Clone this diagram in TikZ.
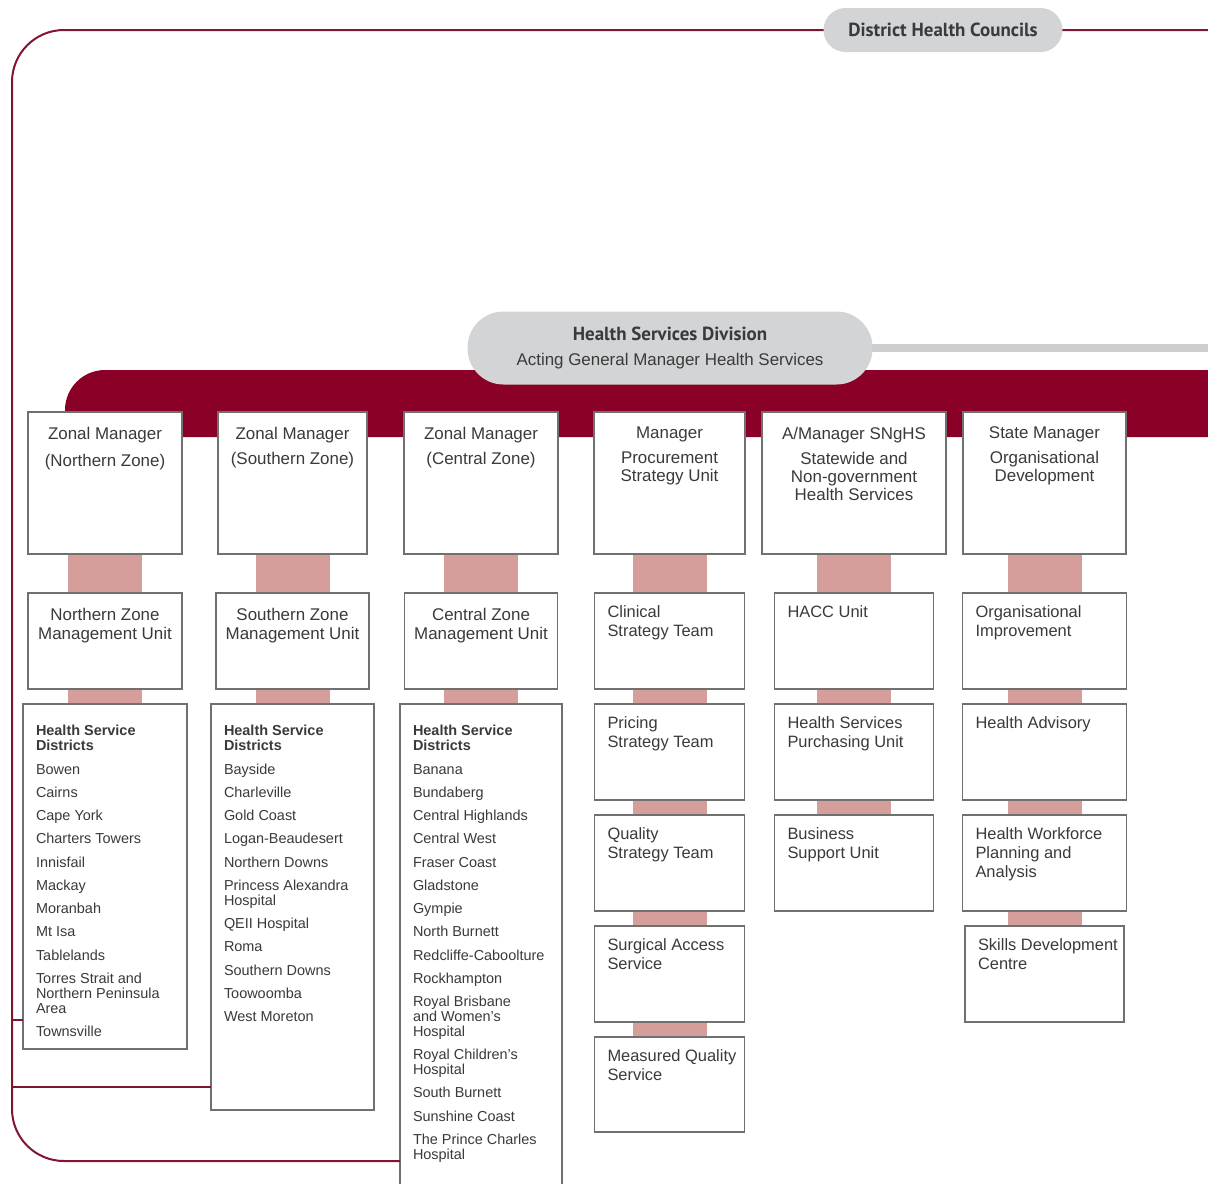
\documentclass[tikz,border=0pt]{standalone}
\usepackage{fontspec}
\setmainfont{Liberation Sans}
\newfontfamily\headfont{PT Sans}
\usepackage{tikz}
\usetikzlibrary{positioning,backgrounds}
\definecolor{bandred}{RGB}{139,0,38}
\definecolor{councilred}{RGB}{128,22,48}
\definecolor{linkpink}{RGB}{213,158,154}
\definecolor{pillgrey}{RGB}{211,212,214}
\definecolor{railgrey}{RGB}{204,205,207}
\definecolor{edgegrey}{RGB}{112,112,112}
\definecolor{inkgrey}{RGB}{58,58,58}
\newcommand{\headline}[1]{{\headfont\bfseries\fontsize{19}{22}\selectfont #1}}
\newcommand{\topbox}[3]{\parbox[t][#2bp][t]{#1bp}{\centering\fontsize{17}{18}\selectfont\vspace*{15bp}#3}}
\newcommand{\midbox}[3]{\parbox[t][#2bp][t]{#1bp}{\centering\fontsize{17}{19}\selectfont\vspace*{15bp}#3}}
\newcommand{\subbox}[3]{\parbox[t][#2bp][t]{#1bp}{\raggedright\leftskip=13bp\relax\fontsize{16.5}{19}\selectfont\vspace*{12.5bp}#3}}
\newcommand{\hsdbox}[3]{\parbox[t][#2bp][t]{#1bp}{\raggedright\leftskip=13bp\relax\fontsize{14.5}{15}\selectfont\vspace*{21.5bp}\textbf{Health Service\\Districts}\par\parskip=8.3bp\relax #3}}

\begin{document}
\begin{tikzpicture}[
    x=1bp, y=-1bp,
    node distance=15bp,
    unit node/.style={draw=edgegrey,line width=1.3bp,fill=white,inner sep=0pt,outer sep=0pt,text=inkgrey},
    pill node/.style={fill=pillgrey,text=inkgrey,inner sep=0pt,align=center},
    council line/.style={draw=councilred,line width=2bp},
    link/.style={fill=linkpink}
    ]

    \useasboundingbox (0,0) rectangle (1208,1184);
    \clip (0,0) rectangle (1208,1184);

    \fill[bandred] (65,437) -- (65,410) arc[start angle=180, end angle=90, radius=40bp] -- (1260,370) -- (1260,437) -- cycle;

    \node[unit node, anchor=north west] (11) at (28,412) {\topbox{154}{142}{Zonal Manager\\[9bp](Northern Zone)}};
    \node[unit node] (21) [right=36bp of 11] {\topbox{149}{142}{Zonal Manager\\[7bp](Southern Zone)}};
    \node[unit node] (31) [right=37bp of 21] {\topbox{154}{142}{Zonal Manager\\[7bp](Central Zone)}};
    \node[unit node] (41) [right=36bp of 31] {\topbox{151}{142}{Manager\\[7bp]Procurement\\Strategy Unit}};
    \node[unit node] (51) [right=17bp of 41] {\topbox{184}{142}{A/Manager SNgHS\\[7bp]Statewide and\\Non-government\\Health Services}};
    \node[unit node] (61) [right=17bp of 51] {\topbox{163}{142}{State Manager\\[7bp]Organisational\\Development}};

    \node[unit node] (12) [below=39bp of 11] {\midbox{154}{96}{Northern Zone\\Management Unit}};
    \node[unit node] (22) [below=39bp of 21] {\midbox{153}{96}{Southern Zone\\Management Unit}};
    \node[unit node] (32) [below=39bp of 31] {\midbox{153}{96}{Central Zone\\Management Unit}};
    \node[unit node] (42) [below=39bp of 41] {\subbox{150}{96}{Clinical\\Strategy Team}};
    \node[unit node] (52) [below=39bp of 51] {\subbox{159}{96}{HACC Unit}};
    \node[unit node] (62) [below=39bp of 61] {\subbox{164}{96}{Organisational\\Improvement}};

    \node[unit node] (13) [below=of 12] {\hsdbox{164}{345}{Bowen\par Cairns\par Cape York\par Charters Towers\par Innisfail\par Mackay\par Moranbah\par Mt Isa\par Tablelands\par Torres Strait and\\Northern Peninsula\\Area\par Townsville}};
    \node[unit node] (23) [below=of 22] {\hsdbox{163}{406}{Bayside\par Charleville\par Gold Coast\par Logan-Beaudesert\par Northern Downs\par Princess Alexandra\\Hospital\par QEII Hospital\par Roma\par Southern Downs\par Toowoomba\par West Moreton}};
    \node[unit node] (33) [below=of 32] {\hsdbox{162}{500}{Banana\par Bundaberg\par Central Highlands\par Central West\par Fraser Coast\par Gladstone\par Gympie\par North Burnett\par Redcliffe-Caboolture\par Rockhampton\par Royal Brisbane\\and Women's\\Hospital\par Royal Children's\\Hospital\par South Burnett\par Sunshine Coast\par The Prince Charles\\Hospital}};
    \node[unit node] (43) [below=of 42] {\subbox{150}{96}{Pricing\\Strategy Team}};
    \node[unit node] (44) [below=of 43] {\subbox{150}{96}{Quality\\Strategy Team}};
    \node[unit node] (45) [below=of 44] {\subbox{150}{96}{Surgical Access\\Service}};
    \node[unit node] (46) [below=of 45] {\subbox{150}{95}{Measured Quality\\Service}};
    \node[unit node] (53) [below=of 52] {\subbox{159}{96}{Health Services\\Purchasing Unit}};
    \node[unit node] (54) [below=of 53] {\subbox{159}{96}{Business\\Support Unit}};
    \node[unit node] (63) [below=of 62] {\subbox{164}{96}{Health Advisory}};
    \node[unit node] (64) [below=of 63] {\subbox{164}{96}{Health Workforce\\Planning and\\Analysis}};
    \node[unit node] (65) [below=of 64] {\subbox{159}{96}{Skills Development\\Centre}};

    \node[pill node, minimum width=405bp, minimum height=73bp, rounded corners=36bp, font={\fontsize{17}{22}\selectfont}] (0) at (670,348) {\headline{Health Services Division}\\[4bp]Acting General Manager Health Services};

    \coordinate (east edge) at (1208,30);
    \coordinate (c1) at (12,30);
    \coordinate (c2) at (12,1161);
    \coordinate (t1) at (12,1020);
    \coordinate (t2) at (12,1087);
    \draw[council line, rounded corners=52bp] (east edge) -- (c1) -- (c2) -- (c2 -| 33.west);
    \draw[council line] (t1) -- (t1 -| 13.west);
    \draw[council line] (t2) -- (t2 -| 23.west);

    \node[pill node, minimum width=239bp, minimum height=44bp, rounded corners=22bp] (9) at (943,30) {\headline{District Health Councils}};

    \begin{scope}[on background layer]
      \draw[railgrey, line width=8bp] (0.center) -- (0 -| east edge);
      \foreach \a/\b in {11/12,12/13,21/22,22/23,31/32,32/33,41/42,42/43,43/44,44/45,45/46,51/52,52/53,53/54,61/62,62/63,63/64,64/65}
        \fill[link] ([xshift=-37bp]\a.south) rectangle ([xshift=37bp]\b.north);
    \end{scope}
  \end{tikzpicture}
\end{document}
